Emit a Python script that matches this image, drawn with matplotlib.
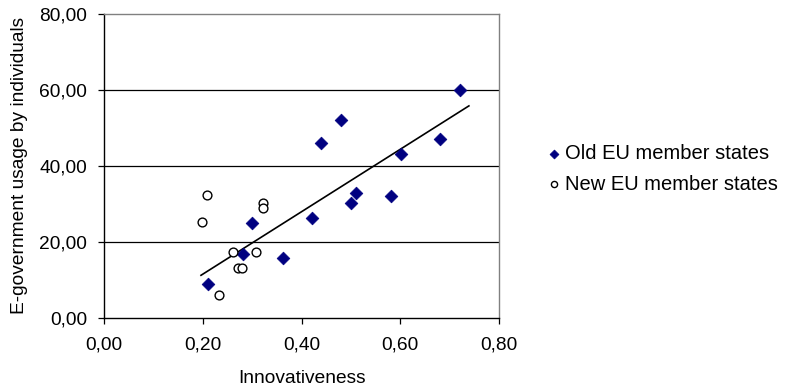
import numpy as np
import matplotlib
matplotlib.use("Agg")
import matplotlib.pyplot as plt
from matplotlib.ticker import FuncFormatter

plt.rcParams['font.family'] = ['Liberation Sans', 'DejaVu Sans']

# Innovativeness vs. e-government usage
old_x = [0.72, 0.479, 0.44, 0.681, 0.601, 0.511, 0.501, 0.582, 0.421, 0.300, 0.282, 0.362, 0.211]
old_y = [60.0, 52.0, 45.9, 47.2, 43.2, 32.9, 30.2, 32.1, 26.2, 25.0, 16.9, 15.8, 9.0]

new_x = [0.209, 0.199, 0.322, 0.322, 0.260, 0.308, 0.270, 0.280, 0.232]
new_y = [32.3, 25.1, 30.3, 29.0, 17.2, 17.2, 13.2, 13.2, 6.1]

trend_x_range = [0.196, 0.739]

x_ticks = [0.0, 0.2, 0.4, 0.6, 0.8]
y_ticks = [0, 20, 40, 60, 80]

FS = 13.8

fig = plt.figure(figsize=(7.85, 3.92), dpi=100)
ax = fig.add_axes([104.3 / 785, 1 - 317.7 / 392, (499 - 104.3) / 785, (317.7 - 14) / 392])

for yv in y_ticks[1:-1]:
    ax.axhline(yv, color='black', lw=0.9, zorder=1)

# linear trend of the old member states
slope, intercept = np.polyfit(old_x, old_y, 1)
tx = np.array(trend_x_range)
ax.plot(tx, slope * tx + intercept, color='black', lw=1.2, zorder=2)

ax.scatter(old_x, old_y, marker='D', s=42, color='#000080', edgecolors='#000080',
           lw=0.5, zorder=3, label='Old EU member states')
ax.scatter(new_x, new_y, marker='o', s=40, facecolors='white', edgecolors='black',
           lw=1.0, zorder=3, label='New EU member states')

ax.set_xlim(0, 0.8)
ax.set_ylim(0, 80)
ax.set_xticks(x_ticks)
ax.set_yticks(y_ticks)
fmt = FuncFormatter(lambda v, p: f"{v:.2f}".replace('.', ','))
ax.xaxis.set_major_formatter(fmt)
ax.yaxis.set_major_formatter(fmt)
ax.tick_params(axis='both', labelsize=FS, length=4.5, width=0.9, direction='out',
               colors='black')
ax.tick_params(axis='x', pad=9)
ax.tick_params(axis='y', pad=8)

for side in ['left', 'bottom']:
    ax.spines[side].set_color('black')
    ax.spines[side].set_linewidth(1.0)
for side in ['top', 'right']:
    ax.spines[side].set_color('#808080')
    ax.spines[side].set_linewidth(1.0)

ax.set_xlabel('Innovativeness', fontsize=FS, labelpad=12)
ax.set_ylabel('E-government usage by individuals', fontsize=FS, labelpad=8)

leg = ax.legend(loc='upper left', bbox_to_anchor=(534 / 785, 1 - 134 / 392),
                bbox_transform=fig.transFigure, frameon=False, fontsize=14.5,
                handletextpad=0.05, handlelength=1.0, labelspacing=0.58,
                markerscale=0.7, borderpad=0)

fig.savefig('out.png', dpi=100)
